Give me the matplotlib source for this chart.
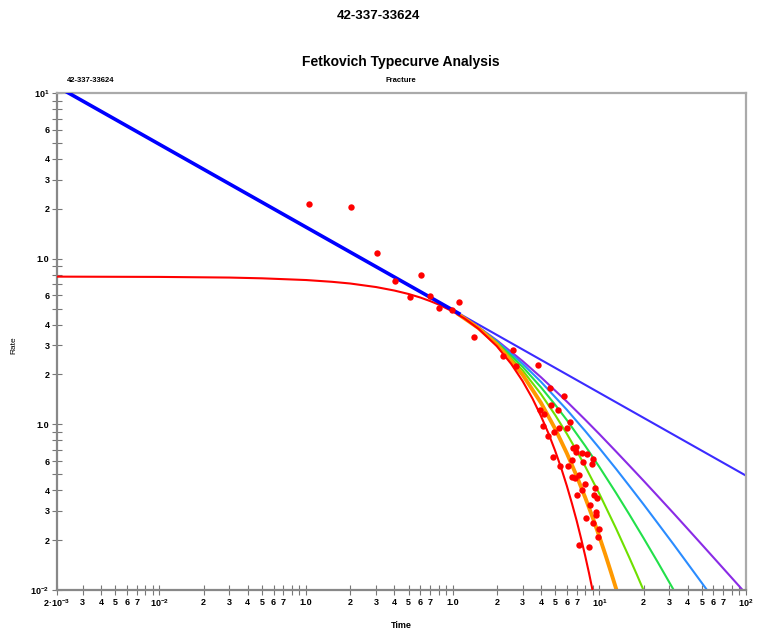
import matplotlib.pyplot as plt
from matplotlib.ticker import FixedLocator, FixedFormatter, NullLocator

plt.rcParams['font.family'] = ['Liberation Sans', 'DejaVu Sans']
plt.rcParams['mathtext.fontset'] = 'custom'
plt.rcParams['mathtext.rm'] = 'Liberation Sans'
plt.rcParams['mathtext.bf'] = 'Liberation Sans:bold'
plt.rcParams['mathtext.default'] = 'bf'

well = "42-337-33624"

# linear flow line (thick early part, thin late part)
blue_t = [0.002, 1.1]
blue_q = [10.95, 0.467]
blue_late_t = [1.1, 100]
blue_late_q = [0.467, 0.049]

# red stem (b = 0)
red_t = [0.002, 0.01, 0.03, 0.05, 0.1, 0.15, 0.2, 0.3, 0.4, 0.5, 0.6, 0.7, 0.8, 1.0,
         1.2, 1.5, 2.0, 2.5, 3.0, 3.5, 4.0, 4.5, 5.0, 5.5, 6.0, 6.5, 7.0, 7.5, 8.0, 8.5, 9.0]
red_q = [0.779, 0.776, 0.769, 0.761, 0.743, 0.725, 0.708, 0.674, 0.642, 0.612, 0.583, 0.555, 0.529, 0.480,
         0.436, 0.377, 0.296, 0.232, 0.182, 0.143, 0.112, 0.0880, 0.0690, 0.0542, 0.0425, 0.0333, 0.0262,
         0.0205, 0.0161, 0.01264, 0.0099]

# depletion stems
orange_t = [1.1, 1.5, 2, 3, 4, 5, 6, 7, 8, 9, 10, 11, 12, 13, 14]
orange_q = [0.46, 0.381, 0.304, 0.199, 0.1347, 0.0938, 0.0669, 0.0488, 0.0362, 0.0274, 0.0210,
            0.0163, 0.0128, 0.0102, 0.0082]

lime_t = [1.1, 1.5, 2, 3, 4, 5, 6, 7, 8, 10, 13, 16, 18, 20, 21]
lime_q = [0.46, 0.3823, 0.3088, 0.2114, 0.1521, 0.1137, 0.0877, 0.0692, 0.0558, 0.0381, 0.0235,
          0.0157, 0.0124, 0.00998, 0.0090]

green_t = [1.1, 1.5, 2, 3, 4, 5, 6, 8, 10, 13, 16, 20, 25, 33]
green_q = [0.46, 0.3836, 0.3132, 0.2222, 0.1672, 0.1311, 0.1061, 0.0742, 0.0553, 0.0385, 0.0286,
           0.0206, 0.01473, 0.0096]

dodger_t = [1.1, 1.5, 2, 3, 4, 6, 8, 10, 13, 16, 20, 25, 32, 40, 50, 56]
dodger_q = [0.46, 0.3847, 0.3174, 0.2319, 0.1805, 0.1225, 0.0912, 0.0718, 0.0538, 0.0425, 0.0329,
            0.0253, 0.0189, 0.01444, 0.01103, 0.00961]

purple_t = [1.1, 1.5, 2, 3, 4, 6, 8, 10, 13, 16, 20, 25, 32, 40, 50, 65, 80, 100]
purple_q = [0.46, 0.3859, 0.3212, 0.2406, 0.1923, 0.1372, 0.1067, 0.0873, 0.0685, 0.0564, 0.0457,
            0.0369, 0.0291, 0.0234, 0.0188, 0.01452, 0.01183, 0.00949]

# production data points
data_t = [0.104, 0.2035, 0.304, 0.611, 0.404, 0.509, 0.704, 0.802, 0.995, 1.104,
          1.402, 2.204, 2.596, 2.692, 3.803, 4.593, 5.768, 3.925, 4.180, 4.702,
          5.185, 6.291, 4.096, 5.317, 5.971, 4.907, 4.465, 6.625, 6.944, 6.913,
          7.557, 8.255, 9.073, 6.542, 7.677, 8.846, 4.791, 5.401, 6.124, 7.211,
          6.512, 6.804, 7.925, 9.362, 7.557, 7.054, 9.245, 9.661, 8.613, 9.495,
          8.126, 9.510, 8.988, 9.922, 9.813, 7.314, 8.505]
data_q = [2.138, 2.051, 1.087, 0.800, 0.736, 0.590, 0.596, 0.504, 0.490, 0.548,
          0.335, 0.259, 0.281, 0.225, 0.229, 0.1665, 0.1484, 0.1213, 0.1152, 0.1305,
          0.1213, 0.1030, 0.0978, 0.0947, 0.0955, 0.0903, 0.0845, 0.0718, 0.0729, 0.0684,
          0.0674, 0.0665, 0.0621, 0.0607, 0.0596, 0.0579, 0.0635, 0.0557, 0.0557, 0.0497,
          0.0483, 0.0474, 0.0434, 0.0413, 0.0401, 0.0374, 0.0376, 0.0359, 0.0326, 0.0297,
          0.0271, 0.0283, 0.0253, 0.0233, 0.0208, 0.0186, 0.0182]

# axis ticks
x_ticks = [0.002, 0.003, 0.004, 0.005, 0.006, 0.007, 0.008, 0.009,
           0.01, 0.02, 0.03, 0.04, 0.05, 0.06, 0.07, 0.08, 0.09,
           0.1, 0.2, 0.3, 0.4, 0.5, 0.6, 0.7, 0.8, 0.9,
           1, 2, 3, 4, 5, 6, 7, 8, 9,
           10, 20, 30, 40, 50, 60, 70, 80, 90, 100]
x_labels = ["2·10$^{-3}$", "3", "4", "5", "6", "7", "", "",
            "10$^{-2}$", "2", "3", "4", "5", "6", "7", "", "",
            "1.0", "2", "3", "4", "5", "6", "7", "", "",
            "1.0", "2", "3", "4", "5", "6", "7", "", "",
            "10$^{1}$", "2", "3", "4", "5", "6", "7", "", "", "10$^{2}$"]
y_ticks = [0.01, 0.02, 0.03, 0.04, 0.05, 0.06, 0.07, 0.08, 0.09,
           0.1, 0.2, 0.3, 0.4, 0.5, 0.6, 0.7, 0.8, 0.9,
           1, 2, 3, 4, 5, 6, 7, 8, 9, 10]
y_labels = ["10$^{-2}$", "2", "3", "4", "", "6", "", "", "",
            "1.0", "2", "3", "4", "", "6", "", "", "",
            "1.0", "2", "3", "4", "", "6", "", "", "", "10$^{1}$"]

fig = plt.figure(figsize=(7.57, 6.33), dpi=100)
ax = fig.add_axes([57 / 757, 1 - 590 / 633, 689 / 757, 497 / 633])
ax.set_xscale('log')
ax.set_yscale('log')

ax.plot(blue_late_t, blue_late_q, color='#3b2bff', lw=1.5, zorder=2)
ax.plot(purple_t, purple_q, color='#8a2be6', lw=1.5, zorder=2)
ax.plot(dodger_t, dodger_q, color='#2a8cff', lw=1.5, zorder=2)
ax.plot(green_t, green_q, color='#22e04a', lw=1.5, zorder=2)
ax.plot(lime_t, lime_q, color='#6fe000', lw=1.5, zorder=2)
ax.plot(orange_t, orange_q, color='#ff9900', lw=2.8, zorder=2)
ax.plot(red_t, red_q, color='#ff0000', lw=1.5, zorder=3)
ax.plot(blue_t, blue_q, color='#0000ff', lw=2.6, zorder=3)
ax.plot(data_t, data_q, 'o', color='#ff0000', markersize=4.6, markeredgewidth=0, zorder=4)

ax.set_xlim(0.002, 100)
ax.set_ylim(0.01, 10)

ax.xaxis.set_major_locator(FixedLocator(x_ticks))
ax.xaxis.set_major_formatter(FixedFormatter(x_labels))
ax.xaxis.set_minor_locator(NullLocator())
ax.yaxis.set_major_locator(FixedLocator(y_ticks))
ax.yaxis.set_major_formatter(FixedFormatter(y_labels))
ax.yaxis.set_minor_locator(NullLocator())
ax.tick_params(direction='inout', length=7, width=0.8, color='#777777',
               labelsize=6.5, pad=2)
for lbl in ax.get_xticklabels() + ax.get_yticklabels():
    lbl.set_fontweight('bold')

for side in ['left', 'bottom']:
    ax.spines[side].set_color('#888888')
    ax.spines[side].set_linewidth(1.6)
for side in ['top', 'right']:
    ax.spines[side].set_color('#aaaaaa')
    ax.spines[side].set_linewidth(1.6)

fig.text(378 / 757, 1 - 16 / 633, well, ha='center', va='center', fontsize=9.5, fontweight='bold')
fig.text(401 / 757, 1 - 62 / 633, "Fetkovich Typecurve Analysis", ha='center', va='center',
         fontsize=10, fontweight='bold')
fig.text(91 / 757, 1 - 80 / 633, well, ha='center', va='center', fontsize=5.5, fontweight='bold')
fig.text(401 / 757, 1 - 80 / 633, "Fracture", ha='center', va='center', fontsize=5.5, fontweight='bold')
fig.text(14 / 757, 1 - 345 / 633, "Rate", ha='center', va='center', rotation=90, fontsize=6)
fig.text(401 / 757, 1 - 626 / 633, "Time", ha='center', va='center', fontsize=6.5, fontweight='bold')

fig.savefig('out.png', dpi=100)
